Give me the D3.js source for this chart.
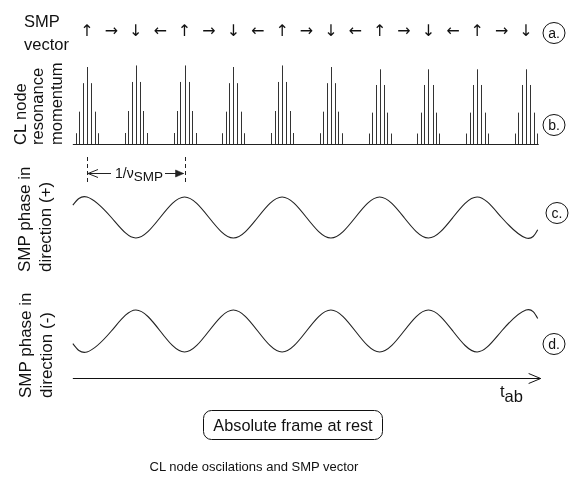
<!DOCTYPE html>
<html>
<head>
<meta charset="utf-8">
<script src="https://cdn.jsdelivr.net/npm/d3@7"></script>
<style>
  html, body { margin: 0; padding: 0; background: #fff; }
  svg { display: block; will-change: transform; }
  text { font-family: "Liberation Sans", Arial, sans-serif; fill: #111; }
  text.arrow { font-family: "DejaVu Sans", sans-serif; }
</style>
</head>
<body>
<svg id="chart" width="576" height="481"></svg>
<script>
// ---- data ----
const arrowSymbols = ["↑","→","↓","←","↑","→","↓","←","↑","→","↓","←","↑","→","↓","←","↑","→","↓"];
const arrowTimes = [0,0.5,1,1.5,2,2.5,3,3.5,4,4.5,5,5.5,6,6.5,7,7.5,8,8.5,9];

const groupTimes = [0,1,2,3,4,5,6,7,8,9];
const groupPeaks = [1.0, 1.02, 1.02, 1.0, 1.02, 1.0, 0.97, 0.97, 0.97, 0.97];
const spikeOffsets = [-0.225, -0.155, -0.085, 0, 0.085, 0.155, 0.225];
const spikeHeights = [0.14, 0.42, 0.79, 1.0, 0.79, 0.42, 0.14];

const waveTimes = [-0.29,0,0.5,1,1.5,2,2.5,3,3.5,4,4.5,5,5.5,6,6.5,7,7.5,8,8.5,9,9.24];
const phasePlus  = [0.6,1,0,-1,0,1,0,-1,0,1,0,-1,0,1,0,-1,0,1,0,-1,-0.6];
const phaseMinus = [-0.6,-1,0,1,0,-1,0,1,0,-1,0,1,0,-1,0,1,0,-1,0,1,0.6];

const rowLabels = ["a.","b.","c.","d."];

// ---- scales ----
const svg = d3.select("#chart");
const x = d3.scaleLinear().domain([0, 9]).range([87, 526]);
const ySpike = d3.scaleLinear().domain([0, 1]).range([144, 67]);
const yPlus = d3.scaleLinear().domain([-1, 1]).range([238, 197]);
const yMinus = d3.scaleLinear().domain([-1, 1]).range([352, 310]);

// ---- row a: SMP vector arrows ----
svg.append("text").attr("x", 24).attr("y", 27).attr("font-size", 16.5).text("SMP");
svg.append("text").attr("x", 24).attr("y", 50).attr("font-size", 16.5).text("vector");
svg.append("g").selectAll("text").data(arrowSymbols).join("text")
  .attr("class", "arrow")
  .attr("x", (d, i) => x(arrowTimes[i]))
  .attr("y", 36)
  .attr("text-anchor", "middle")
  .attr("font-size", 16)
  .text(d => d + "\uFE0E");

// ---- row b: spikes ----
function rotLabel(lines, xs, yBottom, size) {
  lines.forEach((t, i) => {
    svg.append("text")
      .attr("transform", `translate(${xs[i]},${yBottom}) rotate(-90)`)
      .attr("font-size", size)
      .text(t);
  });
}
rotLabel(["CL node", "resonance", "momentum"], [25.5, 43, 62], 145, 16.5);

const spikes = [];
groupTimes.forEach((gt, gi) => {
  spikeOffsets.forEach((off, si) => {
    spikes.push({ t: gt + off, v: spikeHeights[si] * groupPeaks[gi] });
  });
});
svg.append("g").selectAll("line").data(spikes).join("line")
  .attr("x1", d => Math.round(x(d.t)) + 0.5)
  .attr("x2", d => Math.round(x(d.t)) + 0.5)
  .attr("y1", ySpike(0))
  .attr("y2", d => ySpike(d.v))
  .attr("stroke", "#333")
  .attr("stroke-width", 1);
svg.append("line")
  .attr("x1", x(-0.29)).attr("x2", x(9.26))
  .attr("y1", ySpike(0) + 0.5).attr("y2", ySpike(0) + 0.5)
  .attr("stroke", "#222").attr("stroke-width", 1);

// ---- period annotation ----
[0, 2].forEach(t => {
  svg.append("line")
    .attr("x1", Math.round(x(t)) + 0.5).attr("x2", Math.round(x(t)) + 0.5)
    .attr("y1", 157).attr("y2", 185)
    .attr("stroke", "#222").attr("stroke-dasharray", "4,3");
});
const ay = 173.5;
svg.append("line").attr("x1", x(0) + 1).attr("x2", 111).attr("y1", ay).attr("y2", ay).attr("stroke", "#222");
svg.append("path").attr("d", `M${x(0) + 11},${ay - 4} L${x(0) + 1},${ay} L${x(0) + 11},${ay + 4}`)
  .attr("fill", "none").attr("stroke", "#222");
svg.append("line").attr("x1", 165).attr("x2", x(2) - 1).attr("y1", ay).attr("y2", ay).attr("stroke", "#222");
svg.append("path").attr("d", `M${x(2) - 9},${ay - 3.5} L${x(2) - 1},${ay} L${x(2) - 9},${ay + 3.5} Z`)
  .attr("fill", "#222").attr("stroke", "#222").attr("stroke-width", 0.6);
const ann = svg.append("text").attr("x", 115).attr("y", 178).attr("font-size", 14);
ann.append("tspan").text("1/ν");
ann.append("tspan").attr("dy", 3).attr("font-size", 13.5).text("SMP");

// ---- row c & d: waves ----
const linePlus = d3.line().x((d, i) => x(waveTimes[i])).y(d => yPlus(d)).curve(d3.curveNatural);
const lineMinus = d3.line().x((d, i) => x(waveTimes[i])).y(d => yMinus(d)).curve(d3.curveNatural);
svg.append("path").attr("d", linePlus(phasePlus)).attr("fill", "none").attr("stroke", "#222").attr("stroke-width", 1.1);
svg.append("path").attr("d", lineMinus(phaseMinus)).attr("fill", "none").attr("stroke", "#222").attr("stroke-width", 1.1);

rotLabel(["SMP phase in", "direction (+)"], [29.5, 50.5], 272, 17);
rotLabel(["SMP phase in", "direction (-)"], [30.5, 52], 398, 17);

// ---- time axis ----
const axY = 378.5;
svg.append("line").attr("x1", x(-0.29)).attr("x2", x(9.3)).attr("y1", axY).attr("y2", axY).attr("stroke", "#111");
svg.append("path").attr("d", `M${x(9.3) - 12},${axY - 5} L${x(9.3)},${axY} L${x(9.3) - 12},${axY + 5}`)
  .attr("fill", "none").attr("stroke", "#111");
const tl = svg.append("text").attr("x", 500).attr("y", 397).attr("font-size", 16.5);
tl.append("tspan").text("t");
tl.append("tspan").attr("dy", 5).text("ab");

// ---- row markers ----
const markerY = [33, 125, 213, 344];
const markers = svg.append("g").selectAll("g").data(rowLabels).join("g")
  .attr("transform", (d, i) => `translate(${i === 2 ? 557 : 554},${markerY[i]})`);
markers.append("ellipse").attr("rx", 11).attr("ry", 10.5).attr("fill", "none").attr("stroke", "#111");
markers.append("text").attr("text-anchor", "middle").attr("y", 5).attr("font-size", 14).text(d => d);

// ---- frame box and caption ----
svg.append("rect").attr("x", 203.5).attr("y", 410.5).attr("width", 179).attr("height", 29)
  .attr("rx", 8).attr("fill", "none").attr("stroke", "#111");
svg.append("text").attr("x", 293).attr("y", 431).attr("text-anchor", "middle").attr("font-size", 16.3)
  .text("Absolute frame at rest");
svg.append("text").attr("x", 254).attr("y", 471).attr("text-anchor", "middle").attr("font-size", 13)
  .text("CL node oscilations and SMP vector");
</script>
</body>
</html>
